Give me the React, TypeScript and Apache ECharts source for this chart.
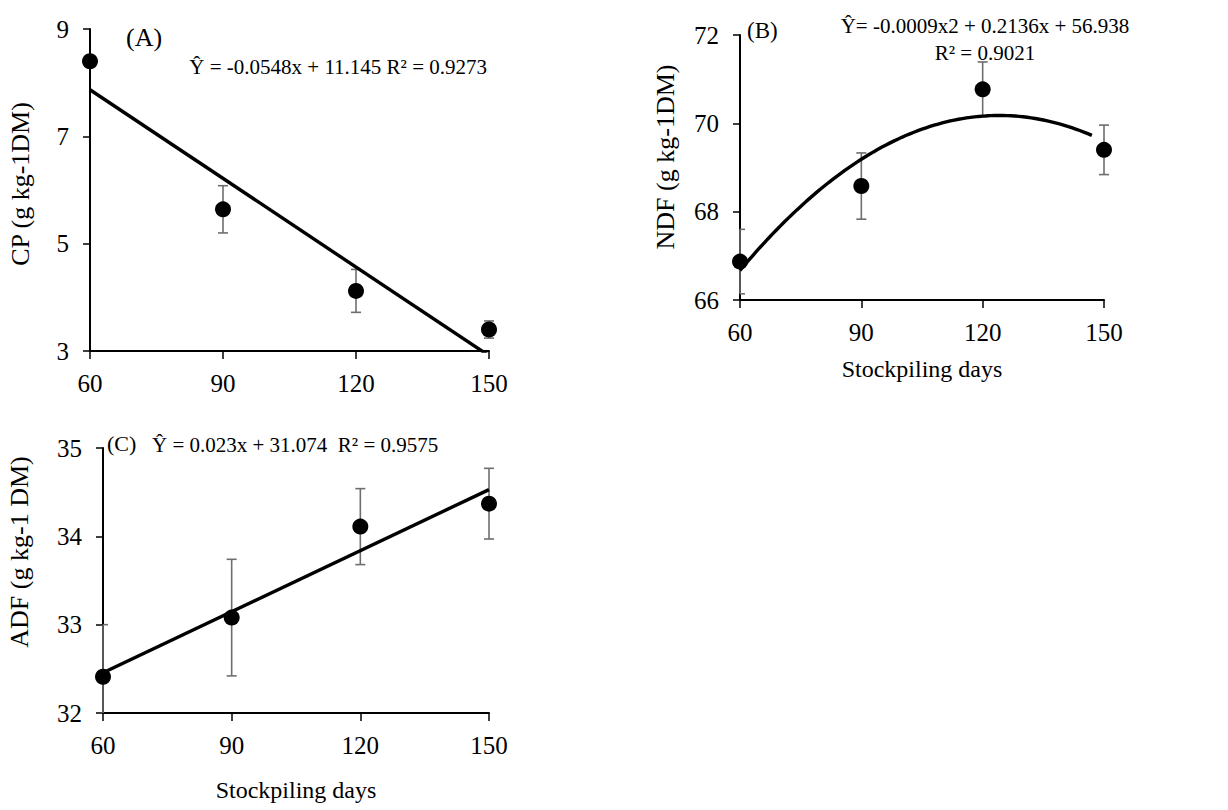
import React, { useEffect, useRef } from "react";
import * as echarts from "echarts";

// ---------- data ----------
const stockpilingDays = [60, 90, 120, 150];

const cpMean = [8.4, 5.64, 4.12, 3.4];
const cpErr = [0.1, 0.44, 0.4, 0.16];

const ndfMean = [66.87, 68.58, 70.77, 69.4];
const ndfErr = [0.73, 0.75, 0.62, 0.56];

const adfMean = [32.41, 33.08, 34.11, 34.37];
const adfErr = [0.59, 0.66, 0.43, 0.4];

const xTicks = [60, 90, 120, 150];
const cpTicks = [3, 5, 7, 9];
const ndfTicks = [66, 68, 70, 72];
const adfTicks = [32, 33, 34, 35];

// x range over which each trendline is drawn
const cpTrendRange = [60, 150];
const ndfTrendRange = [60, 147];
const adfTrendRange = [60, 150];

const eqA = "Ŷ = -0.0548x + 11.145 R² = 0.9273";
const eqB1 = "Ŷ= -0.0009x2 + 0.2136x + 56.938";
const eqB2 = "R² = 0.9021";
const eqC = "Ŷ = 0.023x + 31.074  R² = 0.9575";

const yNameA = "CP (g kg-1DM)";
const yNameB = "NDF (g kg-1DM)";
const yNameC = "ADF (g kg-1 DM)";
const xName = "Stockpiling days";

// ---------- helpers ----------
const FONT = '"Liberation Serif", "Times New Roman", serif';

// least-squares polynomial fit (the trendline of the data)
function polyFit(xs: number[], ys: number[], degree: number): number[] {
  const n = degree + 1;
  const A: number[][] = [];
  for (let r = 0; r < n; r++) {
    const row: number[] = [];
    for (let c = 0; c < n; c++) {
      let s = 0;
      for (let k = 0; k < xs.length; k++) s += Math.pow(xs[k], r + c);
      row.push(s);
    }
    let b = 0;
    for (let k = 0; k < xs.length; k++) b += ys[k] * Math.pow(xs[k], r);
    row.push(b);
    A.push(row);
  }
  for (let i = 0; i < n; i++) {
    let p = i;
    for (let r = i + 1; r < n; r++) if (Math.abs(A[r][i]) > Math.abs(A[p][i])) p = r;
    [A[i], A[p]] = [A[p], A[i]];
    for (let r = 0; r < n; r++) {
      if (r === i) continue;
      const f = A[r][i] / A[i][i];
      for (let c = i; c <= n; c++) A[r][c] -= f * A[i][c];
    }
  }
  return A.map((row, i) => row[n] / row[i]);
}

function trendPoints(coef: number[], range: number[], step: number): number[][] {
  const pts: number[][] = [];
  const ev = (x: number) => coef.reduce((s, c, i) => s + c * Math.pow(x, i), 0);
  for (let x = range[0]; x < range[1]; x += step) pts.push([x, ev(x)]);
  pts.push([range[1], ev(range[1])]);
  return pts;
}

function errorSeries(idx: number, means: number[], errs: number[]) {
  return {
    type: "custom",
    xAxisIndex: idx,
    yAxisIndex: idx,
    z: 3,
    data: stockpilingDays.map((d, i) => [d, means[i], errs[i]]),
    renderItem: (params: any, api: any) => {
      const x = api.value(0);
      const y = api.value(1);
      const e = api.value(2);
      const top = api.coord([x, y + e]);
      const bot = api.coord([x, y - e]);
      const cs = params.coordSys;
      const yMin = cs.y;
      const yMax = cs.y + cs.height;
      const xL = Math.max(top[0] - 5, cs.x);
      const xR = top[0] + 5;
      const style = { stroke: "#6e6e6e", lineWidth: 1.6 };
      const t = Math.max(top[1], yMin);
      const b = Math.min(bot[1], yMax);
      const children: any[] = [
        { type: "line", shape: { x1: top[0], y1: t, x2: top[0], y2: b }, style },
      ];
      if (top[1] >= yMin)
        children.push({ type: "line", shape: { x1: xL, y1: top[1], x2: xR, y2: top[1] }, style });
      if (bot[1] <= yMax)
        children.push({ type: "line", shape: { x1: xL, y1: bot[1], x2: xR, y2: bot[1] }, style });
      return { type: "group", children };
    },
  };
}

function xAxis(idx: number, name?: string, nameGap?: number) {
  return {
    type: "value",
    gridIndex: idx,
    min: xTicks[0],
    max: xTicks[xTicks.length - 1],
    interval: xTicks[1] - xTicks[0],
    name: name || "",
    nameLocation: "middle",
    nameGap: nameGap || 0,
    nameTextStyle: { fontFamily: FONT, fontSize: 24, color: "#000" },
    axisLine: { show: true, onZero: false, lineStyle: { color: "#000", width: 2 } },
    axisTick: { show: true, inside: false, length: 8, lineStyle: { color: "#000", width: 1.5 } },
    splitLine: { show: false },
    axisLabel: { color: "#000", fontFamily: FONT, fontSize: 25, margin: 20 },
  };
}

function yAxis(idx: number, ticks: number[]) {
  return {
    type: "value",
    gridIndex: idx,
    min: ticks[0],
    max: ticks[ticks.length - 1],
    interval: ticks[1] - ticks[0],
    axisLine: { show: true, onZero: false, lineStyle: { color: "#000", width: 2 } },
    axisTick: { show: true, inside: false, length: 7, lineStyle: { color: "#000", width: 1.5 } },
    splitLine: { show: false },
    axisLabel: { color: "#000", fontFamily: FONT, fontSize: 25, margin: 21 },
  };
}

function txt(x: number, y: number, text: string, size: number, align: string, rotation = 0) {
  return {
    type: "text",
    x,
    y,
    rotation,
    z: 10,
    style: {
      text,
      fill: "#000",
      font: `${size}px ${FONT}`,
      textAlign: align,
      textVerticalAlign: "middle",
      align,
      verticalAlign: "middle",
    },
  };
}

export default function App() {
  const ref = useRef<HTMLDivElement>(null);

  useEffect(() => {
    document.body.style.margin = "0";
    if (!ref.current) return;
    const chart = echarts.init(ref.current, null, { renderer: "svg" });

    const cpFit = polyFit(stockpilingDays, cpMean, 1);
    const ndfFit = polyFit(stockpilingDays, ndfMean, 2);
    const adfFit = polyFit(stockpilingDays, adfMean, 1);

    const scatter = (idx: number, means: number[]) => ({
      type: "scatter",
      xAxisIndex: idx,
      yAxisIndex: idx,
      z: 4,
      symbol: "circle",
      symbolSize: 16,
      itemStyle: { color: "#000", opacity: 1 },
      data: stockpilingDays.map((d, i) => [d, means[i]]),
    });
    const trend = (idx: number, pts: number[][]) => ({
      type: "line",
      xAxisIndex: idx,
      yAxisIndex: idx,
      z: 5,
      showSymbol: false,
      symbol: "none",
      clip: true,
      smooth: false,
      lineStyle: { color: "#000", width: 3.4 },
      data: pts,
    });

    chart.setOption({
      animation: false,
      backgroundColor: "#fff",
      grid: [
        { left: 90, top: 29, width: 399, height: 322 },
        { left: 740, top: 35, width: 364, height: 265 },
        { left: 103, top: 448, width: 386, height: 265 },
      ],
      xAxis: [xAxis(0), xAxis(1, xName, 57), xAxis(2, xName, 65)],
      yAxis: [yAxis(0, cpTicks), yAxis(1, ndfTicks), yAxis(2, adfTicks)],
      series: [
        errorSeries(0, cpMean, cpErr),
        scatter(0, cpMean),
        trend(0, trendPoints(cpFit, cpTrendRange, 90)),
        errorSeries(1, ndfMean, ndfErr),
        scatter(1, ndfMean),
        trend(1, trendPoints(ndfFit, ndfTrendRange, 1)),
        errorSeries(2, adfMean, adfErr),
        scatter(2, adfMean),
        trend(2, trendPoints(adfFit, adfTrendRange, 90)),
      ],
      graphic: [
        txt(126, 37, "(A)", 26, "left"),
        txt(487, 67, eqA, 21, "right"),
        txt(747, 30, "(B)", 23, "left"),
        txt(985, 26, eqB1, 21, "center"),
        txt(985, 53, eqB2, 21, "center"),
        txt(107, 443, "(C)", 22, "left"),
        txt(152, 445, eqC, 21, "left"),
        txt(20, 184, yNameA, 26, "center", Math.PI / 2),
        txt(665, 157, yNameB, 26, "center", Math.PI / 2),
        txt(19, 552, yNameC, 26, "center", Math.PI / 2),
      ],
    });

    return () => chart.dispose();
  }, []);

  return <div ref={ref} style={{ width: 1228, height: 810 }} />;
}
